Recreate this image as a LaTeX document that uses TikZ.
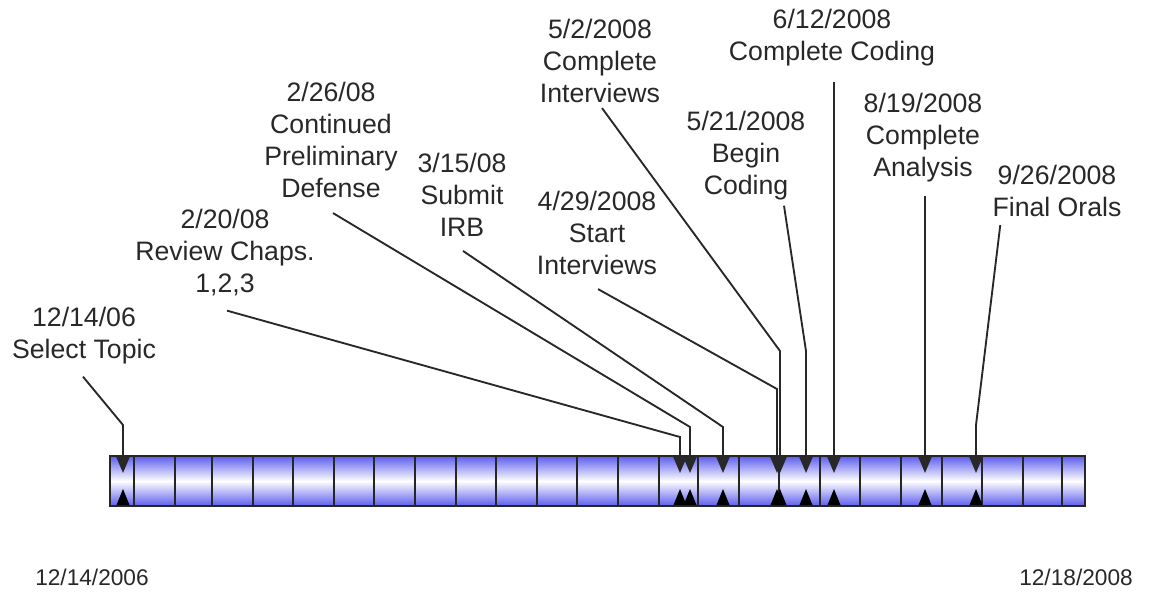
\documentclass[tikz,border=0pt]{standalone}
\usepackage{fontspec}
\setmainfont{Liberation Sans}
\usetikzlibrary{arrows.meta,calc,positioning}

\definecolor{barblue}{RGB}{92,92,238}
\definecolor{inkgray}{RGB}{40,40,40}

\tikzset{
  milestone/.style={align=center, inner sep=0pt, text=inkgray,
    font=\fontsize{20}{24}\selectfont},
  enddate/.style={inner sep=0pt, text=inkgray, font=\fontsize{17}{20}\selectfont},
  leader/.style={draw=inkgray, line width=1.4pt,
    -{Triangle[width=9.75pt,length=12pt]}},
  cell/.style={draw=black!85, line width=1.3pt,
    top color=barblue, bottom color=barblue, middle color=white},
}

\begin{document}
\begin{tikzpicture}[x=0.75pt,y=-0.75pt]
\useasboundingbox (0,0) rectangle (1160,594);

% one cell per month
\foreach \a/\b in {110/134,134/175,175/212,212/253,253/293,293/334,
    334/374,374/415,415/456,456/496,496/537,537/577,577/618,618/659,
    659/698,698/739,739/779,779/820,820/860,860/901,901/942,942/982,
    982/1023,1023/1062,1062/1085}
  \draw[cell] (\a,456) rectangle (\b,506);

% marker tips
\coordinate (m1) at (123,473);
\coordinate (m2) at (680,473);
\coordinate (m3) at (690,473);
\coordinate (m4) at (723,473);
\coordinate (m5) at (777,473);
\coordinate (m6) at (780,473);
\coordinate (m7) at (806,473);
\coordinate (m8) at (834,473);
\coordinate (m9) at (925,473);
\coordinate (m10) at (976,473);

% milestones
\node[milestone] (l1) at (84,336) {12/14/06\\Select Topic};
\node[milestone] (l2) at (225,253) {2/20/08\\Review Chaps.\\1,2,3};
\node[milestone] (l3) at (331,140) {2/26/08\\Continued\\Preliminary\\Defense};
\node[milestone] (l4) at (462,195) {3/15/08\\Submit\\IRB};
\node[milestone] (l5) at (597,233) {4/29/2008\\Start\\Interviews};
\node[milestone] (l6) at (600,61) {5/2/2008\\Complete\\Interviews};
\node[milestone] (l7) at (746,156) {5/21/2008\\Begin\\Coding};
\node[milestone] (l8) at (832,38) {6/12/2008\\Complete Coding};
\node[milestone] (l9) at (923,138) {8/19/2008\\Complete\\Analysis};
\node[milestone] (l10) at (1057,191) {9/26/2008\\Final Orals};

\node[enddate] (start) at (92,577) {12/14/2006};
\node[enddate] (end) at (1076,577) {12/18/2008};

\draw[leader] ($(l1.south)+(-1,12)$) -- (m1 |- 0,425) -- (m1);
\draw[leader] ($(l2.south)+(2,14)$) -- (m2 |- 0,437) -- (m2);
\draw[leader] ($(l3.south)+(2,15)$) -- (m3 |- 0,427) -- (m3);
\draw[leader] ($(l4.south)+(1,14)$) -- (m4 |- 0,427) -- (m4);
\draw[leader] ($(l5.south)+(1,14)$) -- (m5 |- 0,389) -- (m5);
\draw[leader] ($(l6.south)+(2,5)$) -- (m6 |- 0,351) -- (m6);
\draw[leader] ($(l7.south)+(38,5)$) -- (m7 |- 0,351) -- (m7);
\draw[leader] ($(l8.south)+(2,15)$) -- (m8);
\draw[leader] ($(l9.south)+(2,13)$) -- (m9);
\draw[leader] ($(l10.south west)+(8,8)$) -- (m10 |- 0,425) -- (m10);

% bottom markers
\foreach \m in {m1,m2,m3,m4,m5,m6,m7,m8,m9,m10}
  \fill[black] ($(\m)+(0,16)$) -- ++(-6.5,16) -- ++(13,0) -- cycle;
\end{tikzpicture}
\end{document}
